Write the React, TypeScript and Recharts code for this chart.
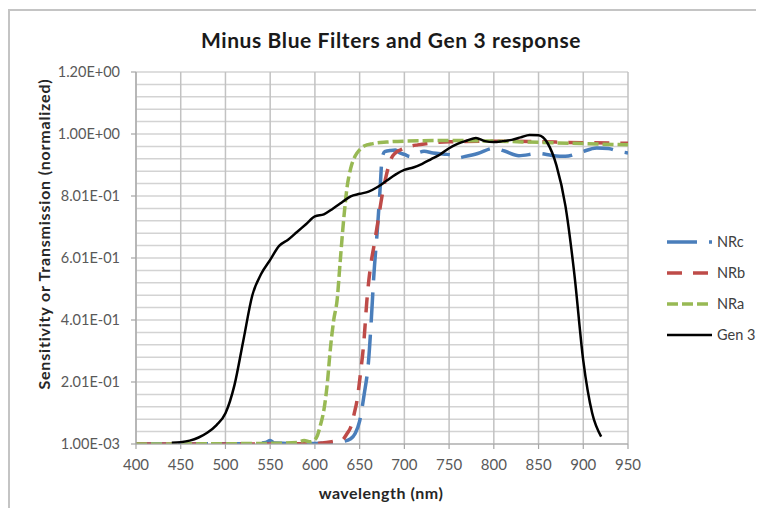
import React from 'react';
import { LineChart, Line, XAxis, YAxis, CartesianGrid, Legend } from 'recharts';

// ---- data (wavelength nm, normalized value) ----
const nrcData = [
  { nm: 400, v: 0.001 }, { nm: 450, v: 0.001 }, { nm: 500, v: 0.002 }, { nm: 530, v: 0.002 },
  { nm: 545, v: 0.006 }, { nm: 550, v: 0.012 }, { nm: 555, v: 0.004 }, { nm: 580, v: 0.002 },
  { nm: 600, v: 0.003 }, { nm: 620, v: 0.004 }, { nm: 630, v: 0.008 }, { nm: 640, v: 0.018 },
  { nm: 645, v: 0.035 }, { nm: 650, v: 0.075 }, { nm: 655, v: 0.16 }, { nm: 660, v: 0.27 },
  { nm: 663, v: 0.4 }, { nm: 666, v: 0.55 }, { nm: 670, v: 0.7 }, { nm: 673, v: 0.83 },
  { nm: 675, v: 0.92 }, { nm: 678, v: 0.944 }, { nm: 685, v: 0.948 }, { nm: 690, v: 0.949 },
  { nm: 695, v: 0.94 }, { nm: 700, v: 0.935 }, { nm: 707, v: 0.928 }, { nm: 715, v: 0.94 },
  { nm: 722, v: 0.945 }, { nm: 732, v: 0.94 }, { nm: 745, v: 0.936 }, { nm: 754, v: 0.933 },
  { nm: 760, v: 0.924 }, { nm: 767, v: 0.928 }, { nm: 782, v: 0.938 }, { nm: 800, v: 0.955 },
  { nm: 812, v: 0.946 }, { nm: 828, v: 0.931 }, { nm: 850, v: 0.938 }, { nm: 865, v: 0.932 },
  { nm: 880, v: 0.929 }, { nm: 897, v: 0.942 }, { nm: 915, v: 0.956 }, { nm: 928, v: 0.954 },
  { nm: 940, v: 0.945 }, { nm: 950, v: 0.94 },
];

const nrbData = [
  { nm: 400, v: 0.001 }, { nm: 500, v: 0.001 }, { nm: 600, v: 0.002 }, { nm: 610, v: 0.005 },
  { nm: 620, v: 0.009 }, { nm: 630, v: 0.013 }, { nm: 636, v: 0.035 }, { nm: 640, v: 0.055 },
  { nm: 644, v: 0.1 }, { nm: 647, v: 0.14 }, { nm: 651, v: 0.23 }, { nm: 655, v: 0.34 },
  { nm: 658, v: 0.46 }, { nm: 662, v: 0.57 }, { nm: 666, v: 0.64 }, { nm: 670, v: 0.71 },
  { nm: 675, v: 0.8 }, { nm: 680, v: 0.87 }, { nm: 685, v: 0.92 }, { nm: 690, v: 0.94 },
  { nm: 696, v: 0.95 }, { nm: 705, v: 0.96 }, { nm: 715, v: 0.966 }, { nm: 730, v: 0.972 },
  { nm: 750, v: 0.976 }, { nm: 800, v: 0.978 }, { nm: 850, v: 0.976 }, { nm: 900, v: 0.973 },
  { nm: 950, v: 0.971 },
];

const nraData = [
  { nm: 400, v: 0.001 }, { nm: 500, v: 0.002 }, { nm: 550, v: 0.003 }, { nm: 580, v: 0.006 },
  { nm: 588, v: 0.012 }, { nm: 595, v: 0.008 }, { nm: 600, v: 0.015 }, { nm: 603, v: 0.03 },
  { nm: 606, v: 0.06 }, { nm: 610, v: 0.11 }, { nm: 614, v: 0.2 }, { nm: 617, v: 0.3 },
  { nm: 621, v: 0.4 }, { nm: 625, v: 0.47 }, { nm: 628, v: 0.58 }, { nm: 632, v: 0.72 },
  { nm: 636, v: 0.83 }, { nm: 640, v: 0.89 }, { nm: 645, v: 0.93 }, { nm: 650, v: 0.95 },
  { nm: 655, v: 0.962 }, { nm: 665, v: 0.97 }, { nm: 680, v: 0.975 }, { nm: 700, v: 0.978 },
  { nm: 750, v: 0.98 }, { nm: 800, v: 0.978 }, { nm: 850, v: 0.974 }, { nm: 900, v: 0.97 },
  { nm: 950, v: 0.966 },
];

const gen3Data = [
  { nm: 440, v: 0.005 }, { nm: 450, v: 0.007 }, { nm: 460, v: 0.012 }, { nm: 470, v: 0.022 },
  { nm: 480, v: 0.038 }, { nm: 490, v: 0.062 }, { nm: 500, v: 0.1 }, { nm: 510, v: 0.19 },
  { nm: 520, v: 0.335 }, { nm: 530, v: 0.48 }, { nm: 540, v: 0.55 }, { nm: 550, v: 0.595 },
  { nm: 560, v: 0.64 }, { nm: 570, v: 0.66 }, { nm: 580, v: 0.685 }, { nm: 590, v: 0.71 },
  { nm: 600, v: 0.735 }, { nm: 610, v: 0.742 }, { nm: 620, v: 0.76 }, { nm: 630, v: 0.78 },
  { nm: 640, v: 0.8 }, { nm: 650, v: 0.808 }, { nm: 660, v: 0.815 }, { nm: 670, v: 0.83 },
  { nm: 680, v: 0.85 }, { nm: 690, v: 0.87 }, { nm: 700, v: 0.885 }, { nm: 710, v: 0.893 },
  { nm: 720, v: 0.905 }, { nm: 730, v: 0.92 }, { nm: 740, v: 0.935 }, { nm: 750, v: 0.955 },
  { nm: 760, v: 0.97 }, { nm: 770, v: 0.98 }, { nm: 780, v: 0.988 }, { nm: 790, v: 0.978 },
  { nm: 800, v: 0.975 }, { nm: 810, v: 0.978 }, { nm: 820, v: 0.982 }, { nm: 830, v: 0.99 },
  { nm: 840, v: 0.998 }, { nm: 850, v: 0.997 }, { nm: 860, v: 0.972 }, { nm: 870, v: 0.9 },
  { nm: 880, v: 0.77 }, { nm: 890, v: 0.55 }, { nm: 900, v: 0.27 }, { nm: 910, v: 0.1 },
  { nm: 920, v: 0.025 },
];

const xTicks = [400, 450, 500, 550, 600, 650, 700, 750, 800, 850, 900, 950];
const yTicks = [0.001, 0.201, 0.401, 0.601, 0.801, 1.001, 1.201];
const yGridValues = [
  0.001, 0.041, 0.081, 0.121, 0.161, 0.201, 0.241, 0.281, 0.321, 0.361, 0.401,
  0.441, 0.481, 0.521, 0.561, 0.601, 0.641, 0.681, 0.721, 0.761, 0.801, 0.841,
  0.881, 0.921, 0.961, 1.001, 1.041, 1.081, 1.121, 1.161, 1.201,
];

const seriesMeta = [
  { key: 'NRc', data: nrcData, color: '#4A7EBB', dash: '30 12', width: 3.5 },
  { key: 'NRb', data: nrbData, color: '#BE4B48', dash: '15 11', width: 3.5 },
  { key: 'NRa', data: nraData, color: '#98B954', dash: '11 4', width: 3.5 },
  { key: 'Gen 3', data: gen3Data, color: '#000000', dash: undefined as string | undefined, width: 2.5 },
];

const FONT = "Lato, 'Open Sans', 'Liberation Sans', sans-serif";

const formatExp = (v: number) => {
  const [m, e] = v.toExponential(2).split('e');
  return `${m}E${e[0]}${e.slice(1).padStart(2, '0')}`;
};

const LegendContent = () => (
  <div style={{ fontFamily: FONT, fontSize: 14.5, color: '#404040', whiteSpace: 'nowrap' }}>
    {seriesMeta.map((s) => (
      <div key={s.key} style={{ display: 'flex', alignItems: 'center', height: 31 }}>
        <svg width={49} height={8} style={{ display: 'block', flex: 'none' }}>
          <line x1={0} y1={4} x2={45} y2={4} stroke={s.color} strokeWidth={s.width} strokeDasharray={s.dash} />
        </svg>
        <span style={{ marginLeft: 1 }}>{s.key}</span>
      </div>
    ))}
  </div>
);

const YLabel = () => (
  <text
    x={35}
    y={226}
    transform="rotate(-90 35 226)"
    textAnchor="middle"
    dominantBaseline="central"
    style={{ fontFamily: FONT, fontSize: 16, letterSpacing: 0.8, fontWeight: 700, fill: '#262626' }}
  >
    Sensitivity or Transmission (normalized)
  </text>
);

export default function App() {
  return (
    <div style={{ position: 'relative', width: 748, height: 500 }}>
      <style>{'html, body { overflow: hidden; }'}</style>
      <div
        style={{
          position: 'absolute', left: 0, top: 1, width: 760, height: 520,
          borderTop: '2px solid #c4c4c4', borderLeft: '2px solid #c4c4c4', boxSizing: 'border-box',
        }}
      />
      <div
        style={{
          position: 'absolute', left: 0, top: 19, width: 748, paddingLeft: 18, boxSizing: 'border-box', textAlign: 'center',
          fontFamily: FONT, fontWeight: 700, fontSize: 21, letterSpacing: 0.6, color: '#1a1a1a', lineHeight: '26px',
        }}
      >
        Minus Blue Filters and Gen 3 response
      </div>
      <div
        style={{
          position: 'absolute', left: 245, top: 474, width: 256, textAlign: 'center',
          fontFamily: FONT, fontWeight: 700, fontSize: 16, letterSpacing: 0.5, color: '#262626', lineHeight: '22px',
        }}
      >
        wavelength (nm)
      </div>
      <LineChart
        width={748}
        height={500}
        margin={{ top: 64, right: 128, bottom: 34, left: 0 }}
        style={{ position: 'absolute', left: 0, top: 0 }}
      >
        <CartesianGrid horizontal={true} vertical={false} horizontalValues={yGridValues} stroke="#d3d3d3" strokeWidth={1.5} />
        <CartesianGrid horizontal={false} vertical={true} verticalValues={xTicks} stroke="#c2c2c2" strokeWidth={1.5} />
        <XAxis
          dataKey="nm"
          type="number"
          domain={[400, 950]}
          ticks={xTicks}
          allowDataOverflow
          height={30}
          tickSize={5}
          tickMargin={10}
          axisLine={{ stroke: '#a6a6a6', strokeWidth: 1.2 }}
          tickLine={{ stroke: '#a6a6a6', strokeWidth: 1.2 }}
          tick={{ fill: '#595959', fontSize: 15, fontFamily: FONT }}
          interval={0}
        />
        <YAxis
          type="number"
          domain={[0.001, 1.201]}
          ticks={yTicks}
          allowDataOverflow
          width={128}
          tickSize={5}
          tickMargin={11}
          tickFormatter={formatExp}
          axisLine={{ stroke: '#a6a6a6', strokeWidth: 1.2 }}
          tickLine={{ stroke: '#a6a6a6', strokeWidth: 1.2 }}
          tick={{ fill: '#595959', fontSize: 14.5, fontFamily: FONT }}
          interval={0}
          label={<YLabel />}
        />
        <Legend
          layout="vertical"
          align="center"
          verticalAlign="middle"
          content={<LegendContent />}
          wrapperStyle={{ left: 659, top: 218, width: 89 }}
        />
        {seriesMeta.map((s) => (
          <Line
            key={s.key}
            name={s.key}
            data={s.data}
            dataKey="v"
            type="monotone"
            stroke={s.color}
            strokeWidth={s.width}
            strokeDasharray={s.dash}
            dot={false}
            activeDot={false}
            isAnimationActive={false}
          />
        ))}
      </LineChart>
    </div>
  );
}
